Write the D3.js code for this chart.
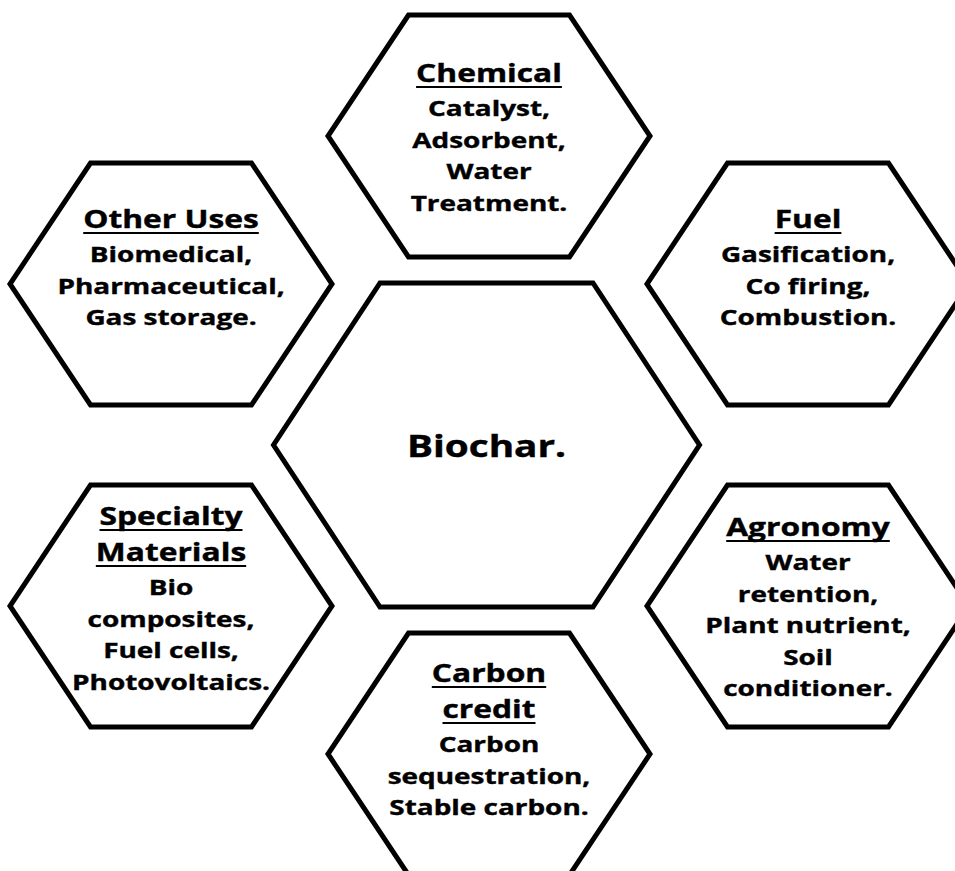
<!DOCTYPE html>
<html>
<head>
<meta charset="utf-8">
<script src="https://cdn.jsdelivr.net/npm/d3@7"></script>
<style>
  body { margin: 0; background: #fff; }
  text { font-family: "Open Sans", sans-serif; font-weight: 700; fill: #000; stroke: #000; stroke-width: 0.4; }
</style>
</head>
<body>
<div id="chart"></div>
<script>
// texts of the diagram
const centerLabel = "Biochar.";
const titles = [
    ["Chemical"],
    ["Other Uses"],
    ["Fuel"],
    ["Specialty", "Materials"],
    ["Agronomy"],
    ["Carbon", "credit"]
];
const uses = [
    ["Catalyst,", "Adsorbent,", "Water", "Treatment."],
    ["Biomedical,", "Pharmaceutical,", "Gas storage."],
    ["Gasification,", "Co firing,", "Combustion."],
    ["Bio", "composites,", "Fuel cells,", "Photovoltaics."],
    ["Water", "retention,", "Plant nutrient,", "Soil", "conditioner."],
    ["Carbon", "sequestration,", "Stable carbon."]
];

// layout: hexagon centres and first baseline offset of each text block
const hexCenters = [[489, 136], [171, 284], [808, 284], [171, 606], [808, 606], [489, 754]];
const textTop = [-54, -56, -56, -81, -70, -72];

const width = 955, height = 871;
const outerR = 161, outerH = 121;
const innerR = 213, innerH = 162;
const innerC = [486.5, 445];
const sx = 1.27;

const svg = d3.select("#chart").append("svg")
    .attr("width", width).attr("height", height);

const hexLine = d3.line().curve(d3.curveLinearClosed);

function hexPoints(cx, cy, r, h) {
    return [[cx - r / 2, cy - h], [cx + r / 2, cy - h], [cx + r, cy],
            [cx + r / 2, cy + h], [cx - r / 2, cy + h], [cx - r, cy]];
}

// central hexagon
svg.append("path")
    .attr("d", hexLine(hexPoints(innerC[0], innerC[1], innerR, innerH)))
    .attr("fill", "#fff").attr("stroke", "#000")
    .attr("stroke-width", 5).attr("stroke-linejoin", "miter");

svg.append("g")
    .attr("transform", `translate(${innerC[0]},457) scale(1.25,1)`)
    .append("text")
    .attr("text-anchor", "middle")
    .attr("font-size", 31)
    .text(centerLabel);

// outer hexagons
const hex = svg.selectAll("g.hex")
    .data(titles.map((t, i) => ({title: t, uses: uses[i], c: hexCenters[i], top: textTop[i]})))
    .enter().append("g")
    .attr("class", "hex");

hex.append("path")
    .attr("d", d => hexLine(hexPoints(d.c[0], d.c[1], outerR, outerH)))
    .attr("fill", "#fff").attr("stroke", "#000")
    .attr("stroke-width", 5).attr("stroke-linejoin", "miter");

hex.each(function(d) {
    const g = d3.select(this);
    let y = d.c[1] + d.top;
    d.title.forEach((t, k) => {
        if (k > 0) y += 36;
        const tg = g.append("g").attr("transform", `translate(${d.c[0]},${y}) scale(${sx},1)`);
        const txt = tg.append("text")
            .attr("text-anchor", "middle")
            .attr("font-size", 25)
            .text(t);
        const len = txt.node().getComputedTextLength();
        tg.append("line")
            .attr("x1", -len / 2).attr("x2", len / 2)
            .attr("y1", 5).attr("y2", 5)
            .attr("stroke", "#000").attr("stroke-width", 2);
    });
    y += 34;
    d.uses.forEach((u, k) => {
        if (k > 0) y += 31.5;
        g.append("g").attr("transform", `translate(${d.c[0]},${y}) scale(${sx},1)`)
            .append("text")
            .attr("text-anchor", "middle")
            .attr("font-size", 22)
            .text(u);
    });
});
</script>
</body>
</html>
